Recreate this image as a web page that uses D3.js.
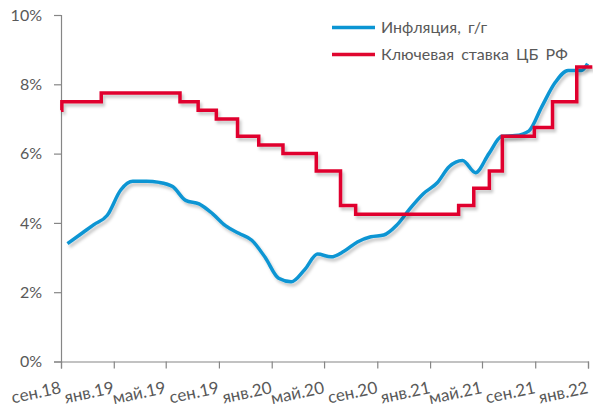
<!DOCTYPE html>
<html>
<head>
<meta charset="utf-8">
<script src="https://cdn.jsdelivr.net/npm/d3@7"></script>
<style>
  html, body { margin: 0; padding: 0; background: #fff; }
  svg { display: block; font-family: Lato, "Open Sans", sans-serif; }
</style>
</head>
<body>
<svg id="chart" width="593" height="409"></svg>
<script>
// инфляция г/г, конец месяца, сен.18 .. дек.21
var inflStart = "2018-09";
var inflation = [3.4, 3.68, 3.95, 4.22, 4.95, 5.2, 5.2, 5.17, 5.05, 4.65, 4.55, 4.27,
  3.92, 3.7, 3.5, 3.0, 2.4, 2.3, 2.65, 3.1, 3.02, 3.18, 3.45, 3.6,
  3.65, 3.95, 4.42, 4.85, 5.15, 5.62, 5.8, 5.45, 6.0, 6.5, 6.52, 6.65,
  7.35, 8.05, 8.4, 8.4];
var inflLastDate = "2022-01-14";
var inflLastValue = 8.6;

// ключевая ставка: дата изменения и значение
var rateDates = ["2018-09-15", "2018-09-17", "2018-12-17", "2019-06-17", "2019-07-29",
  "2019-09-09", "2019-10-28", "2019-12-16", "2020-02-10", "2020-04-27", "2020-06-22",
  "2020-07-27", "2021-03-22", "2021-04-26", "2021-06-01", "2021-07-01", "2021-09-13",
  "2021-10-25", "2021-12-20", "2022-01-25"];
var rateValues = [7.25, 7.5, 7.75, 7.5, 7.25, 7.0, 6.5, 6.25, 6.0, 5.5, 4.5,
  4.25, 4.5, 5.0, 5.5, 6.5, 6.75, 7.5, 8.5, 8.5];

var tickLabels = ["сен.18", "янв.19", "май.19", "сен.19", "янв.20", "май.20",
  "сен.20", "янв.21", "май.21", "сен.21", "янв.22"];
var yTicks = [0, 2, 4, 6, 8, 10];

var seriesNames = ["Инфляция, г/г", "Ключевая ставка ЦБ РФ"];
var colors = ["#0b95d3", "#e0062f"];

var parse = d3.timeParse("%Y-%m-%d");
var svg = d3.select("#chart");

var x0 = new Date(2018, 8, 15);
var x = d3.scaleTime()
  .domain([x0, new Date(2022, 0, 15)])
  .range([61, 588]);
var y = d3.scaleLinear().domain([0, 10]).range([361.5, 15]);

var defs = svg.append("defs");
var f = defs.append("filter").attr("id", "shadow")
  .attr("x", "-10%").attr("y", "-10%").attr("width", "120%").attr("height", "130%");
f.append("feDropShadow")
  .attr("dx", 2).attr("dy", 3).attr("stdDeviation", 1.6)
  .attr("flood-color", "#000").attr("flood-opacity", 0.22);

// оси
var tickDates = tickLabels.map(function(d, i) { return d3.timeMonth.offset(x0, 4 * i); });

var xAxis = svg.append("g")
  .attr("transform", "translate(0," + y(0) + ")")
  .call(d3.axisBottom(x).tickValues(tickDates).tickSize(7).tickFormat(""));
xAxis.select(".domain").attr("stroke", "#868686").attr("stroke-width", 1.2);
xAxis.selectAll(".tick line").attr("stroke", "#868686").attr("stroke-width", 1.2);

svg.append("g").selectAll("text")
  .data(tickDates)
  .enter().append("text")
  .attr("transform", function(d) { return "translate(" + (x(d) + 1) + ",393) rotate(-12)"; })
  .attr("text-anchor", "end")
  .attr("fill", "#595959")
  .attr("font-size", 17)
  .text(function(d, i) { return tickLabels[i]; });

var yAxis = svg.append("g")
  .attr("transform", "translate(61,0)")
  .call(d3.axisLeft(y).tickValues(yTicks).tickSize(7).tickPadding(12)
    .tickFormat(function(d) { return d + "%"; }));
yAxis.select(".domain").attr("stroke", "#868686").attr("stroke-width", 1.2);
yAxis.selectAll(".tick line").attr("stroke", "#868686").attr("stroke-width", 1.2);
yAxis.selectAll(".tick text")
  .attr("fill", "#595959")
  .attr("font-size", 16)
  .attr("font-family", "Lato, sans-serif");

// линии
var inflData = inflation.map(function(v, i) {
  var s = d3.timeParse("%Y-%m")(inflStart);
  return { date: d3.timeDay.offset(d3.timeMonth.offset(s, i + 1), -1), value: v };
});
inflData.push({ date: parse(inflLastDate), value: inflLastValue });

var rateData = rateDates.map(function(d, i) {
  return { date: parse(d), value: rateValues[i] };
});

var inflLine = d3.line()
  .x(function(d) { return x(d.date); })
  .y(function(d) { return y(d.value); })
  .curve(d3.curveMonotoneX);

var rateLine = d3.line()
  .x(function(d) { return x(d.date); })
  .y(function(d) { return y(d.value); })
  .curve(d3.curveStepAfter);

svg.append("path")
  .datum(inflData)
  .attr("d", inflLine)
  .attr("fill", "none")
  .attr("stroke", colors[0])
  .attr("stroke-width", 3.5)
  .attr("stroke-linejoin", "round")
  .attr("filter", "url(#shadow)");

svg.append("path")
  .datum(rateData)
  .attr("d", rateLine)
  .attr("fill", "none")
  .attr("stroke", colors[1])
  .attr("stroke-width", 3.5)
  .attr("filter", "url(#shadow)");

// легенда
var legend = svg.append("g");
var items = legend.selectAll("g")
  .data(seriesNames)
  .enter().append("g")
  .attr("transform", function(d, i) { return "translate(332," + (27.5 + i * 27) + ")"; });
items.append("line")
  .attr("x1", 0).attr("x2", 43)
  .attr("stroke", function(d, i) { return colors[i]; })
  .attr("stroke-width", 3.5);
items.append("text")
  .attr("x", 49)
  .attr("y", 5.5)
  .attr("fill", "#595959")
  .attr("font-size", 16)
  .attr("word-spacing", 3)
  .text(function(d) { return d; });
</script>
</body>
</html>
